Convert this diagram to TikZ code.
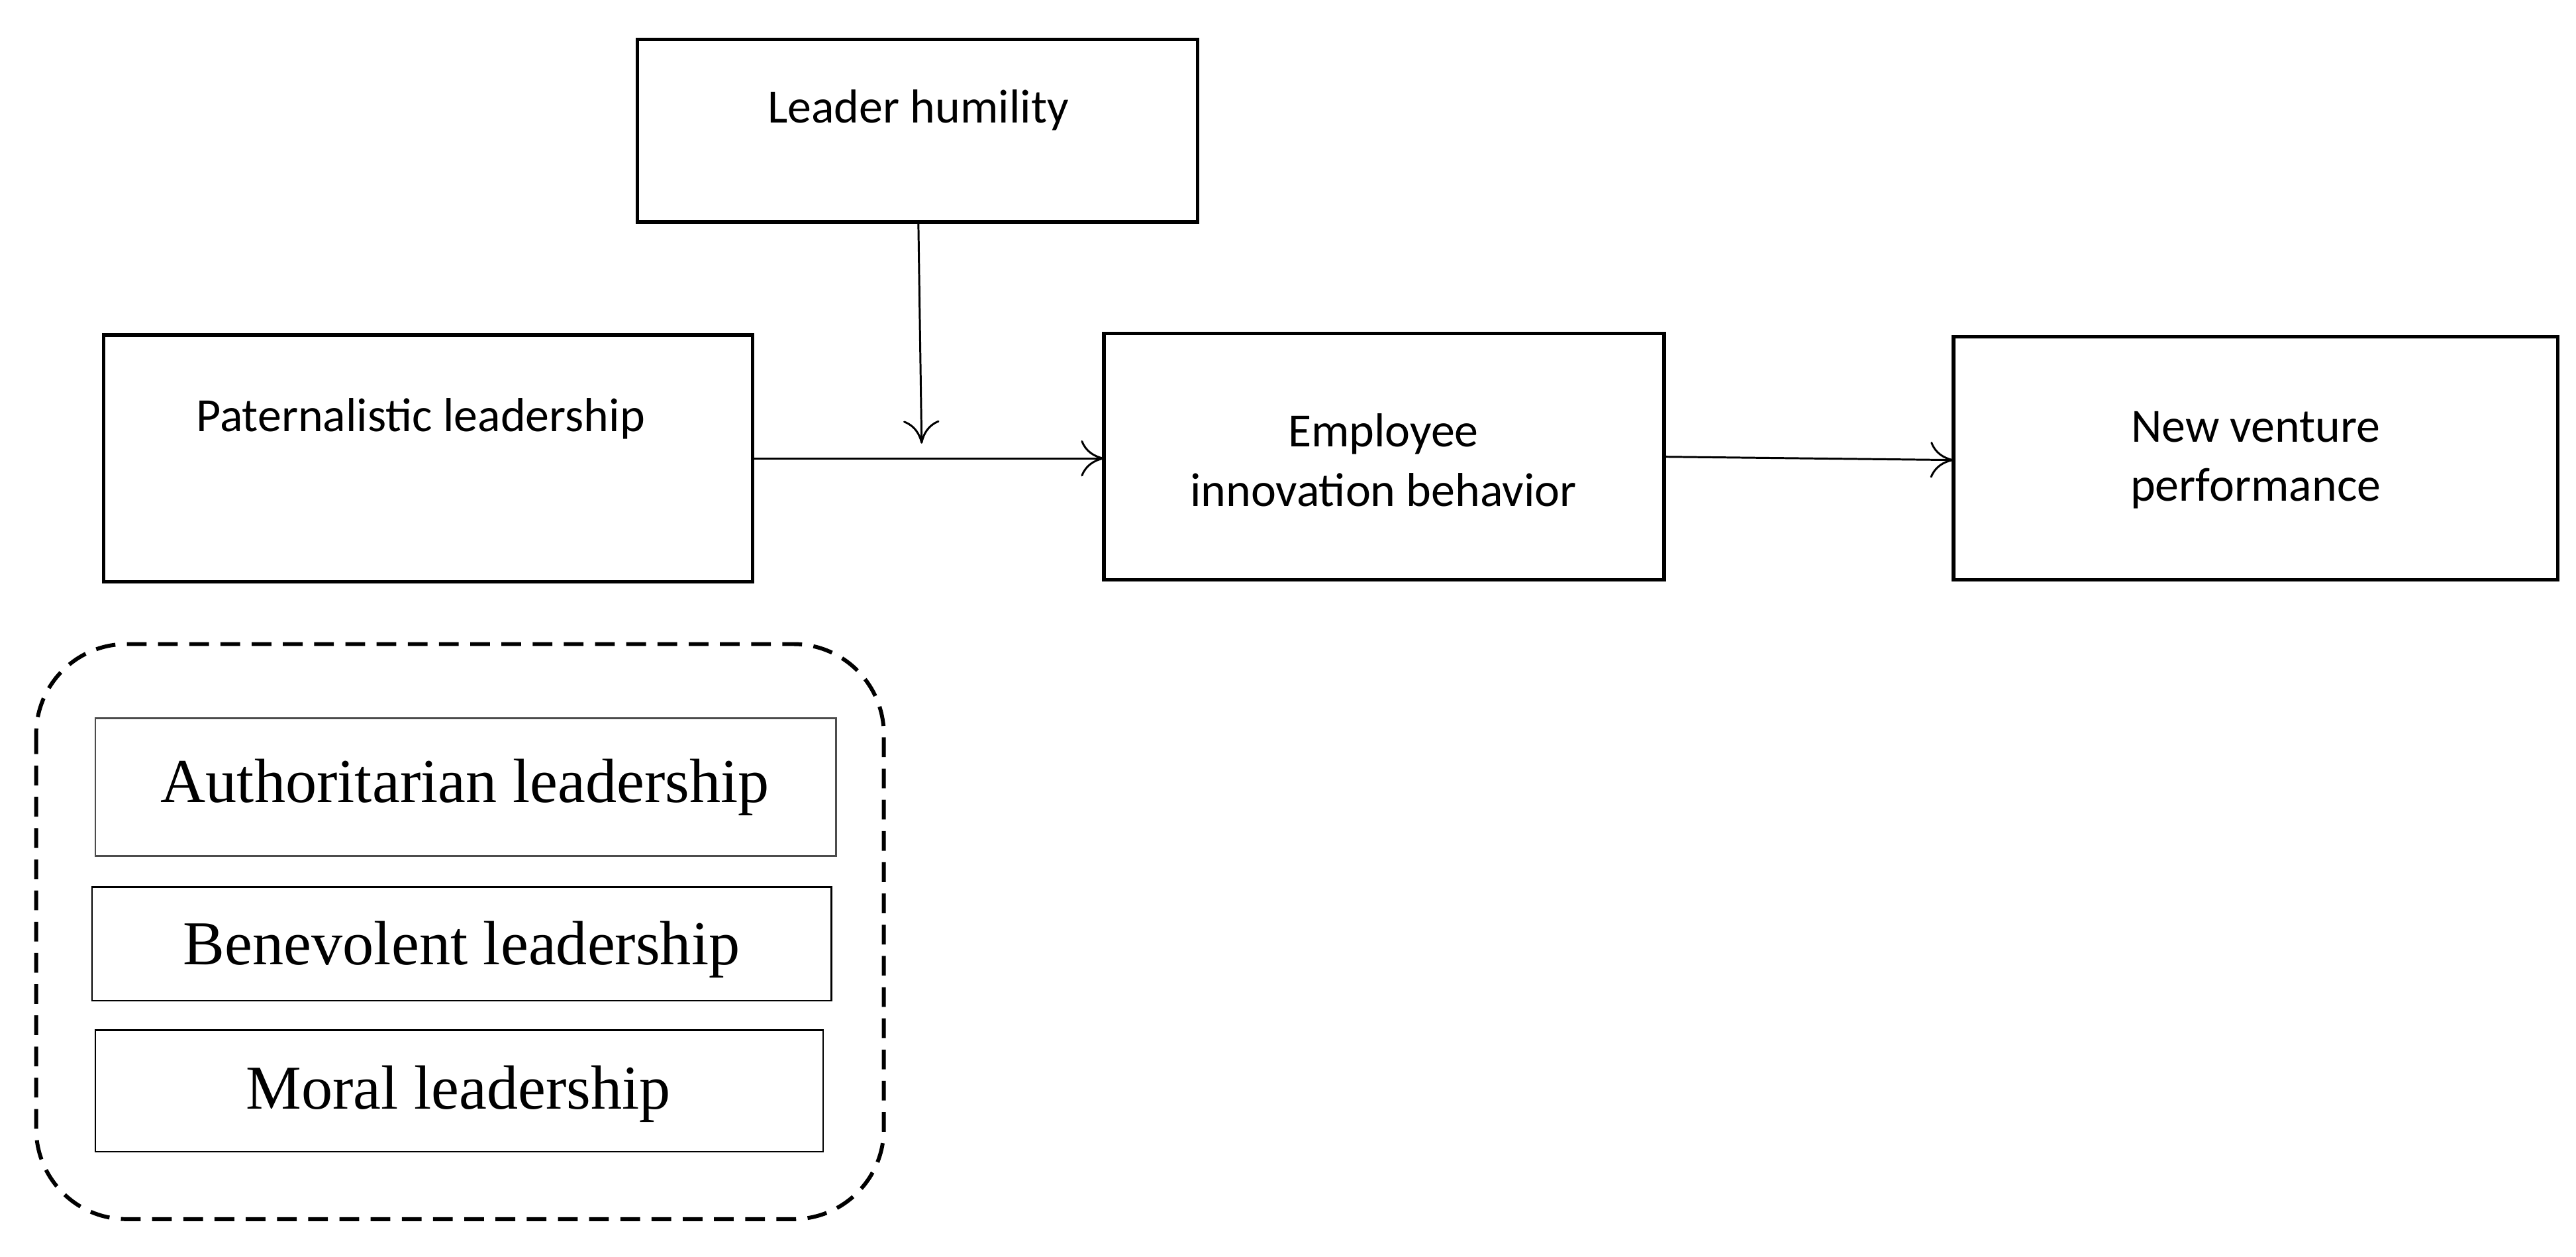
\documentclass[tikz,border=0pt]{standalone}
\usepackage{fontspec}
\setmainfont{Carlito}
\newfontfamily\serifm{Liberation Serif}
\usetikzlibrary{arrows.meta}
\begin{document}
\begin{tikzpicture}[x=1pt,y=-1pt,
  bx/.style={draw,line width=2.2pt},
  sb/.style={draw,line width=1.1pt},
  lab/.style={font=\fontsize{29}{36}\selectfont,align=center},
  slab/.style={font=\serifm\fontsize{38}{44}\selectfont},
  arr/.style={-{To[length=14pt,width=22pt]},line width=1.2pt}]
\useasboundingbox (0,0) rectangle (1568,765);
\draw[bx] (388,24) rectangle (729,135);
\node[lab] (lh) at (559,67) {Leader humility};
\coordinate (lhb) at (559,135);
\coordinate (lhe) at (561,270);
\draw[bx] (63,204) rectangle (458,354);
\node[lab] (pl) at (256,255) {Paternalistic leadership};
\draw[bx] (672,203) rectangle (1013,353);
\node[lab] (eib) at (842,280) {Employee\\innovation behavior};
\draw[bx] (1189,205) rectangle (1557,353);
\node[lab] (nvp) at (1373,280) {New venture\\performance};
\coordinate (pr) at (458,279);
\coordinate (el) at (672,279);
\coordinate (er) at (1013,278);
\coordinate (nl) at (1189,280);
\draw[arr] (pr) -- (el);
\draw[arr] (lhb) -- (lhe);
\draw[arr] (er) -- (nl);
\draw[dashed,line width=2.4pt,dash pattern=on 12pt off 7pt,rounded corners=55pt] (22,392) rectangle (538,742);
\draw[sb,draw=black!70] (58,437) rectangle (509,521);
\node[slab] (al) at (283,479) {Authoritarian leadership};
\draw[sb] (56,540) rectangle (506,609);
\node[slab] (bl) at (281,578) {Benevolent leadership};
\draw[sb] (58,627) rectangle (501,701);
\node[slab] (ml) at (279,666) {Moral leadership};
\end{tikzpicture}
\end{document}
